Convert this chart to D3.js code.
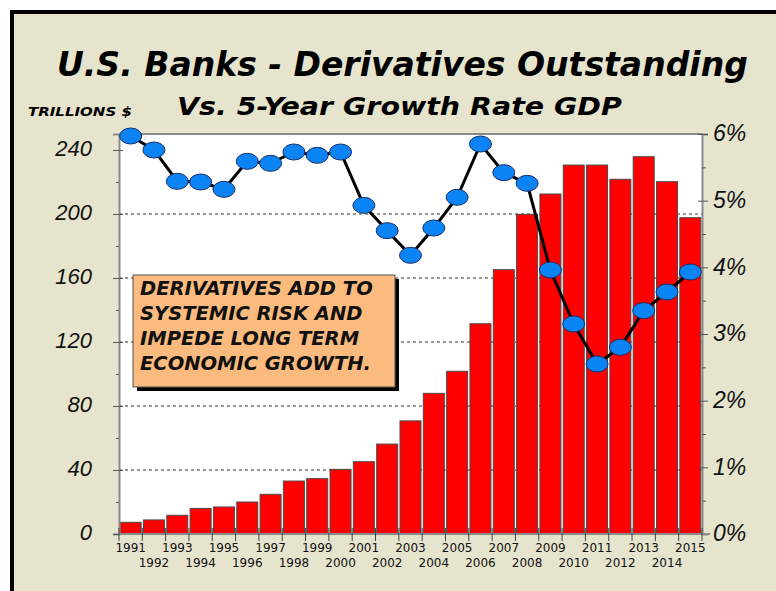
<!DOCTYPE html>
<html>
<head>
<meta charset="utf-8">
<script src="https://cdn.jsdelivr.net/npm/d3@7/dist/d3.min.js"></script>
<style>
  html, body { margin: 0; padding: 0; background: #fff; }
  svg { display: block; font-family: "DejaVu Sans", Verdana, sans-serif; }
</style>
</head>
<body>
<div id="chart"></div>
<script>
// data
const years = d3.range(1991, 2016);
const derivatives = [7.3, 8.8, 11.7, 16.0, 16.9, 20.0, 24.8, 33.1, 34.6, 40.4, 45.2, 56.2, 70.7,
  87.9, 101.7, 131.4, 165.2, 199.8, 212.5, 230.6, 230.6, 221.7, 235.8, 220.2, 197.7];
const gdpGrowth = [5.97, 5.76, 5.29, 5.28, 5.17, 5.59, 5.56, 5.73, 5.68, 5.73, 4.93, 4.55, 4.18,
  4.59, 5.05, 5.85, 5.42, 5.26, 3.96, 3.15, 2.55, 2.80, 3.35, 3.63, 3.93];
const leftTicks = [0, 40, 80, 120, 160, 200, 240];
const leftMinor = [20, 60, 100, 140, 180, 220];
const gridTicks = [40, 80, 120, 160, 200];
const rightTicks = [0, 1, 2, 3, 4, 5, 6];
const rightMinor = [0.5, 1.5, 2.5, 3.5, 4.5, 5.5];
const noteLines = ["DERIVATIVES ADD TO", "SYSTEMIC RISK AND", "IMPEDE LONG TERM", "ECONOMIC GROWTH."];

const W = 776, H = 591;
const plot = { left: 119, right: 702, top: 134, bottom: 534 };

const svg = d3.select("#chart").append("svg")
  .attr("width", W).attr("height", H);

// outer beige panel with black frame
svg.append("rect")
  .attr("x", 12).attr("y", 12).attr("width", 800).attr("height", 600)
  .attr("fill", "#e6e4cd").attr("stroke", "#000").attr("stroke-width", 4);

// squeeze a text horizontally to a given width (keeps its height)
function fitText(sel, x, y, width) {
  const w = sel.node().getComputedTextLength();
  sel.attr("transform", `translate(${x},${y}) scale(${width / w},1)`);
}

// titles
fitText(svg.append("text")
  .style("font-size", "34px").style("font-weight", "bold").style("font-style", "italic")
  .text("U.S. Banks - Derivatives Outstanding"), 57, 76, 691);

fitText(svg.append("text")
  .style("font-size", "25px").style("font-weight", "bold").style("font-style", "italic")
  .text("Vs. 5-Year Growth Rate GDP"), 177, 115, 445);

fitText(svg.append("text")
  .style("font-size", "13px").style("font-weight", "bold").style("font-style", "italic")
  .text("TRILLIONS $"), 28, 116, 104);

// scales
const x = d3.scaleBand().domain(years).range([plot.left, plot.right])
  .paddingInner(0.1).paddingOuter(0.05);
const xEdge = d3.scaleLinear().domain([1991, 2016]).range([plot.left, plot.right]);
const yL = d3.scaleLinear().domain([0, 250]).range([plot.bottom, plot.top]);
const yR = d3.scaleLinear().domain([0, 6]).range([plot.bottom, plot.top]);

// plot background
svg.append("rect")
  .attr("x", plot.left).attr("y", plot.top)
  .attr("width", plot.right - plot.left).attr("height", plot.bottom - plot.top)
  .attr("fill", "#fff");
svg.append("line")
  .attr("x1", plot.left).attr("x2", plot.right)
  .attr("y1", plot.top).attr("y2", plot.top)
  .attr("stroke", "#8a8a8a").attr("stroke-width", 2);

// grid
svg.append("g").selectAll("line").data(gridTicks).join("line")
  .attr("x1", plot.left).attr("x2", plot.right)
  .attr("y1", d => yL(d)).attr("y2", d => yL(d))
  .attr("stroke", "#333").attr("stroke-width", 1).attr("stroke-dasharray", "3,3");

// bars
svg.append("g").selectAll("rect").data(years).join("rect")
  .attr("x", d => x(d))
  .attr("y", (d, i) => yL(derivatives[i]))
  .attr("width", x.bandwidth())
  .attr("height", (d, i) => plot.bottom - yL(derivatives[i]))
  .attr("fill", "#ff0000").attr("stroke", "#4a4a4a").attr("stroke-width", 1);

// left axis
const gL = svg.append("g").attr("transform", `translate(${plot.left},0)`);
gL.call(d3.axisLeft(yL).tickValues(leftTicks).tickSize(6));
gL.selectAll(".tick line").attr("x1", 4).attr("stroke", "#555");
gL.selectAll(".tick text")
  .style("font-size", "22px").style("font-style", "italic").attr("fill", "#111")
  .attr("x", -27).attr("dy", "0.25em");
gL.append("g").call(d3.axisLeft(yL).tickValues(leftMinor).tickSize(3).tickFormat(""))
  .call(g => g.select(".domain").remove())
  .selectAll(".tick line").attr("stroke", "#555");
gL.select("path.domain").attr("stroke", "#8a8a8a").attr("stroke-width", 2);

// right axis
const gR = svg.append("g").attr("transform", `translate(${plot.right},0)`);
gR.call(d3.axisRight(yR).tickValues(rightTicks).tickSize(6).tickFormat(d => d + "%"));
gR.selectAll(".tick line").attr("x1", -4).attr("stroke", "#555");
gR.selectAll(".tick text")
  .style("font-size", "23px").style("font-style", "italic").attr("fill", "#111")
  .attr("x", 11).attr("dy", "0.3em");
gR.append("g").call(d3.axisRight(yR).tickValues(rightMinor).tickSize(4).tickFormat(""))
  .call(g => g.select(".domain").remove())
  .selectAll(".tick line").attr("stroke", "#555");
gR.select("path.domain").attr("stroke", "#8a8a8a").attr("stroke-width", 2);

// bottom axis: ticks at category edges, labels staggered
const gB = svg.append("g");
gB.append("line")
  .attr("x1", plot.left).attr("x2", plot.right + 8)
  .attr("y1", plot.bottom).attr("y2", plot.bottom)
  .attr("stroke", "#8a8a8a").attr("stroke-width", 2);
gB.selectAll("line.tk").data(d3.range(1991, 2017)).join("line")
  .attr("class", "tk")
  .attr("x1", d => xEdge(d)).attr("x2", d => xEdge(d))
  .attr("y1", plot.bottom - 6).attr("y2", plot.bottom + 7)
  .attr("stroke", "#444");
gB.selectAll("text").data(years).join("text")
  .attr("x", d => x(d) + x.bandwidth() / 2)
  .attr("y", (d, i) => i % 2 === 0 ? 552 : 567)
  .attr("text-anchor", "middle")
  .style("font-size", "12px").attr("fill", "#111")
  .text(d => d);

// GDP line + markers
const line = d3.line()
  .x((d, i) => x(years[i]) + x.bandwidth() / 2)
  .y(d => yR(d));
svg.append("path").datum(gdpGrowth)
  .attr("d", line)
  .attr("fill", "none").attr("stroke", "#000").attr("stroke-width", 3);
svg.append("g").selectAll("ellipse").data(gdpGrowth).join("ellipse")
  .attr("cx", (d, i) => x(years[i]) + x.bandwidth() / 2)
  .attr("cy", d => yR(d))
  .attr("rx", 11).attr("ry", 8)
  .attr("fill", "#0a84f4").attr("stroke", "#1b2f66").attr("stroke-width", 1);

// annotation box
const note = svg.append("g");
note.append("rect")
  .attr("x", 137).attr("y", 279).attr("width", 262).attr("height", 112)
  .attr("fill", "#000");
note.append("rect")
  .attr("x", 133).attr("y", 275).attr("width", 262).attr("height", 112)
  .attr("fill", "#fbba7e").attr("stroke", "#555").attr("stroke-width", 1);
note.selectAll("text").data(noteLines).join("text")
  .attr("x", 140).attr("y", (d, i) => 295 + i * 25)
  .style("font-size", "19.5px").style("font-weight", "bold").style("font-style", "italic")
  .attr("fill", "#111")
  .text(d => d);
</script>
</body>
</html>
